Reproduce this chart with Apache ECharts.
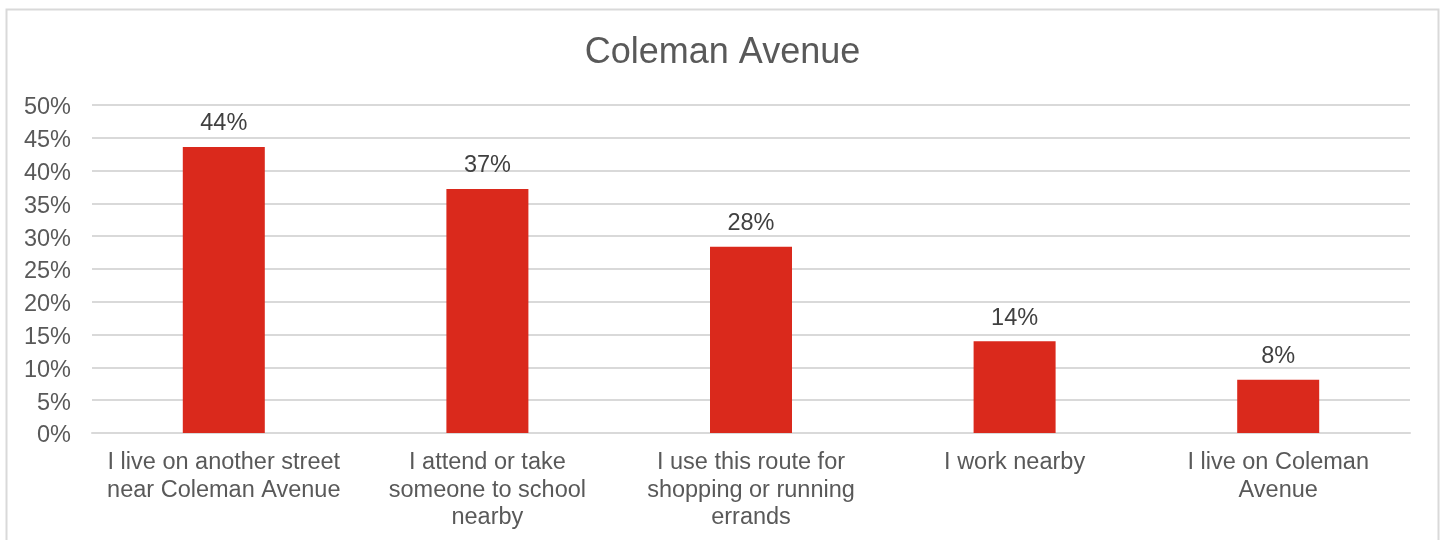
<!DOCTYPE html>
<html>
<head>
<meta charset="utf-8">
<script src="https://cdn.jsdelivr.net/npm/echarts@6/dist/echarts.min.js"></script>
<style>
html,body{margin:0;padding:0;background:#fff;}
#c{width:1445px;height:540px;}
</style>
</head>
<body>
<div id="c"></div>
<script>
const title = "Coleman Avenue";
const categories = [
  "I live on another street\nnear Coleman Avenue",
  "I attend or take\nsomeone to school\nnearby",
  "I use this route for\nshopping or running\nerrands",
  "I work nearby",
  "I live on Coleman\nAvenue"
];
const values = [43.6, 37.2, 28.4, 14.0, 8.1];
const yTicks = { min: 0, max: 50, interval: 5 };

const chart = echarts.init(document.getElementById('c'), null, {renderer: 'canvas'});
chart.setOption({
  animation: false,
  backgroundColor: '#ffffff',
  title: {
    text: title,
    left: 'center',
    top: 28,
    textStyle: { fontFamily: 'Liberation Sans', fontSize: 36, fontWeight: 'normal', color: '#595959', lineHeight: 40 }
  },
  graphic: [{
    type: 'rect',
    shape: { x: 6.5, y: 9.5, width: 1432, height: 600 },
    style: { fill: 'none', stroke: '#d9d9d9', lineWidth: 2 },
    silent: true
  }],
  grid: { left: 92, right: 35, top: 105, bottom: 107, containLabel: false },
  xAxis: {
    type: 'category',
    data: categories,
    axisLine: { show: true, lineStyle: { color: '#d9d9d9', width: 2 } },
    axisTick: { show: false },
    axisLabel: {
      interval: 0,
      margin: 16,
      fontFamily: 'Liberation Sans',
      fontSize: 23.5,
      lineHeight: 27.5,
      color: '#595959'
    }
  },
  yAxis: {
    type: 'value',
    min: yTicks.min,
    max: yTicks.max,
    interval: yTicks.interval,
    axisLine: { show: false },
    axisTick: { show: false },
    splitLine: { lineStyle: { color: '#d9d9d9', width: 2 } },
    axisLabel: {
      margin: 21,
      fontFamily: 'Liberation Sans',
      fontSize: 23.5,
      color: '#595959',
      formatter: v => '{t|' + v + '%}',
      rich: {
        t: {
          fontFamily: 'Liberation Sans',
          fontSize: 23.5,
          color: '#595959',
          padding: [6, 0, 0, 0]
        }
      }
    }
  },
  series: [{
    type: 'bar',
    data: values,
    barWidth: 82,
    itemStyle: { color: '#da291c' },
    label: {
      show: true,
      position: 'top',
      distance: 11,
      fontFamily: 'Liberation Sans',
      fontSize: 23.5,
      color: '#404040',
      formatter: p => Math.round(p.value) + '%'
    }
  }]
});
</script>
</body>
</html>
